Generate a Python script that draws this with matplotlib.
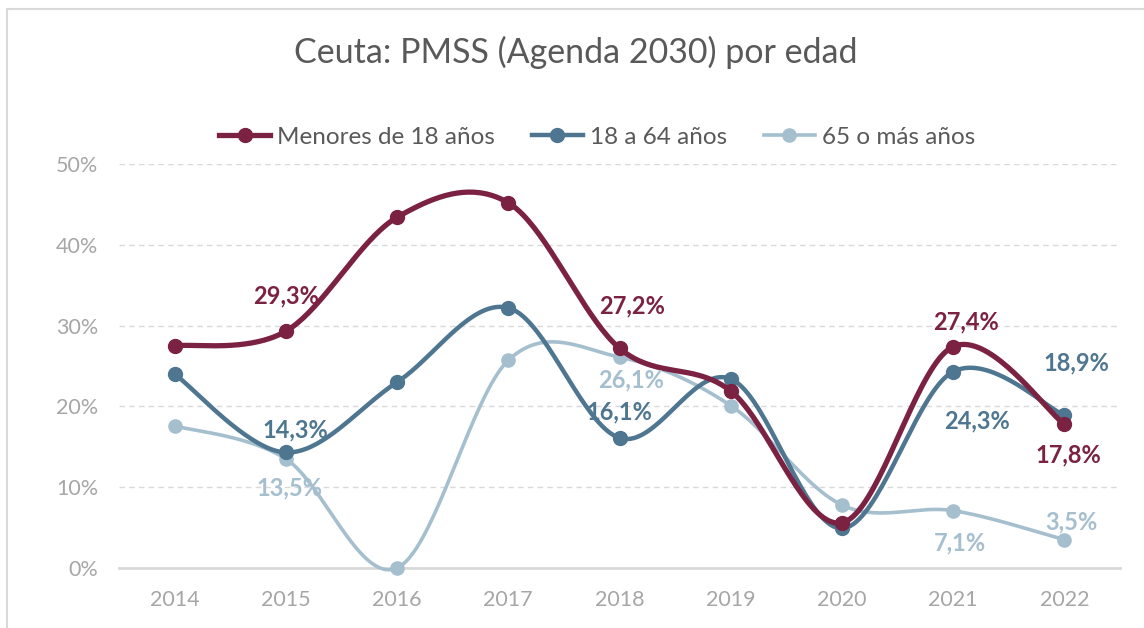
import numpy as np
import matplotlib
matplotlib.use("Agg")
import matplotlib.pyplot as plt
from matplotlib.lines import Line2D

years = ["2014", "2015", "2016", "2017", "2018", "2019", "2020", "2021", "2022"]
menores = [27.5, 29.3, 43.4, 45.2, 27.2, 21.9, 5.6, 27.4, 17.8]
adultos = [24.0, 14.3, 23.0, 32.2, 16.1, 23.4, 4.9, 24.3, 18.9]
mayores = [17.6, 13.5, 0.0, 25.7, 26.1, 20.1, 7.8, 7.1, 3.5]

series_names = ["Menores de 18 años", "18 a 64 años", "65 o más años"]
colors = ["#7B2142", "#4E7690", "#A5BFCF"]
lws = [3.8, 3.2, 2.6]
mss = [10, 10, 9.5]

# labelled points: (series index, year index, dx px, dy px)
labels = [
    (0, 1, 0, 35), (0, 4, 13, 42), (0, 7, 13, 25), (0, 8, 4, -31),
    (1, 1, 10, 23), (1, 4, 0, 26), (1, 7, 24, -49), (1, 8, 12, 52),
    (2, 1, 4, -29), (2, 4, 12, -23), (2, 7, 7, -32), (2, 8, 7, 18),
]

def smooth(xs, ys, n=40):
    xs = np.asarray(xs, float); ys = np.asarray(ys, float)
    px = np.concatenate([[xs[0]], xs, [xs[-1]]])
    py = np.concatenate([[ys[0]], ys, [ys[-1]]])
    outx, outy = [], []
    t = np.linspace(0, 1, n)
    for i in range(1, len(px) - 2):
        p0 = np.array([px[i], py[i]]); p1 = np.array([px[i + 1], py[i + 1]])
        c1 = p0 + (np.array([px[i + 1], py[i + 1]]) - np.array([px[i - 1], py[i - 1]])) / 6
        c2 = p1 - (np.array([px[i + 2], py[i + 2]]) - p0) / 6
        b = ((1 - t) ** 3)[:, None] * p0 + (3 * (1 - t) ** 2 * t)[:, None] * c1 + \
            (3 * (1 - t) * t ** 2)[:, None] * c2 + (t ** 3)[:, None] * p1
        outx.extend(b[:, 0]); outy.extend(b[:, 1])
    return outx, outy

plt.rcParams['font.family'] = ['Lato', 'DejaVu Sans']

fig = plt.figure(figsize=(11.44, 6.28), dpi=100)
ax = fig.add_axes([119 / 1144, 60 / 628, (1120 - 119) / 1144, (568 - 164) / 628])

# chart border
fig.add_artist(plt.Rectangle((7 / 1144, -0.1), 1.2, (628 - 9.5) / 628 + 0.1,
                             transform=fig.transFigure, fill=False,
                             edgecolor="#D9D9D9", linewidth=1.5))

x = np.arange(len(years))
data = [menores, adultos, mayores]
for k in [2, 1, 0]:
    sx, sy = smooth(x, data[k])
    ax.plot(sx, sy, color=colors[k], lw=lws[k], clip_on=False, zorder=3 + (2 - k),
            solid_capstyle='round')
    ax.plot(x, data[k], 'o', color=colors[k], ms=mss[k], clip_on=False, zorder=3 + (2 - k))

for s, i, dx, dy in labels:
    v = data[s][i]
    ax.annotate(f"{v:.1f}%".replace(".", ","), (x[i], v), xytext=(dx, dy),
                textcoords='offset pixels', ha='center', va='center',
                fontsize=17, fontweight='bold', color=colors[s], zorder=10)

ax.set_xlim(-0.5, len(years) - 0.5)
ax.set_ylim(0, 50)
ax.set_xticks(x)
ax.set_xticklabels(years)
ax.set_yticks([0, 10, 20, 30, 40, 50])
ax.set_yticklabels([f"{v}%" for v in [0, 10, 20, 30, 40, 50]])
ax.tick_params(axis='both', length=0, labelsize=15.5, colors="#A6A6A6")
ax.tick_params(axis='y', pad=15)
ax.tick_params(axis='x', pad=16)
for sp in ['top', 'right', 'left']:
    ax.spines[sp].set_visible(False)
ax.spines['bottom'].set_color("#D9D9D9")
ax.spines['bottom'].set_linewidth(2)
ax.yaxis.grid(True, color="#D9D9D9", linestyle=(0, (4, 3)), linewidth=1)
ax.set_axisbelow(True)

fig.text(0.503, 1 - 52 / 628, "Ceuta: PMSS (Agenda 2030) por edad", ha='center', va='center',
         fontsize=24.5, color="#595959")

handles = [Line2D([0], [0], color=colors[k], lw=lws[k], marker='o', ms=mss[k]) for k in range(3)]
leg = fig.legend(handles, series_names, loc='center', bbox_to_anchor=(0.522, 1 - 137 / 628),
                 ncol=3, frameon=False, fontsize=17.5, labelcolor="#595959",
                 handlelength=2.1, handletextpad=0.3, columnspacing=1.5)

fig.savefig("out.png", dpi=100)
